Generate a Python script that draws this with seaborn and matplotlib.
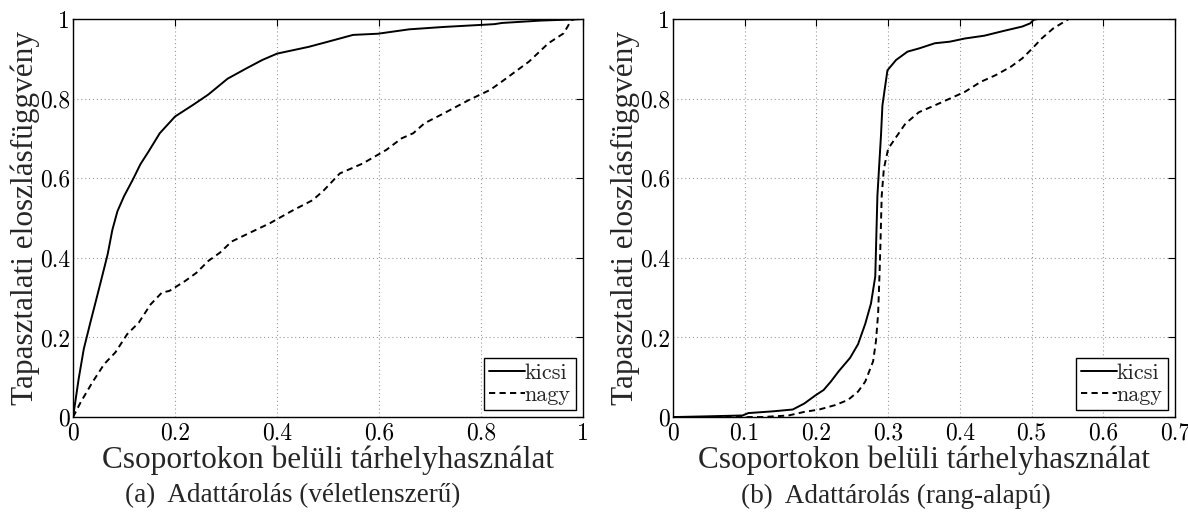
import matplotlib
matplotlib.use("Agg")
import matplotlib.pyplot as plt
import seaborn as sns
import pandas as pd

# Panel (a): random placement
a_kicsi_x = [0.0, 0.011, 0.021, 0.034, 0.049, 0.062, 0.068, 0.077, 0.087, 0.1, 0.117, 0.132, 0.148,
             0.17, 0.2, 0.235, 0.265, 0.303, 0.34, 0.371, 0.40, 0.462, 0.5, 0.549, 0.598, 0.659,
             0.727, 0.826, 0.841, 0.917, 0.985, 1.0]
a_kicsi_y = [0.0, 0.096, 0.171, 0.238, 0.313, 0.379, 0.41, 0.47, 0.517, 0.555, 0.596, 0.635, 0.667,
             0.713, 0.755, 0.784, 0.81, 0.85, 0.876, 0.897, 0.913, 0.93, 0.943, 0.96, 0.963, 0.974,
             0.98, 0.987, 0.99, 0.996, 0.999, 1.0]
a_nagy_x = [0.0, 0.015, 0.038, 0.061, 0.083, 0.106, 0.129, 0.152, 0.174, 0.189, 0.22, 0.242, 0.265,
            0.288, 0.311, 0.345, 0.386, 0.432, 0.47, 0.492, 0.523, 0.568, 0.614, 0.644, 0.667,
            0.689, 0.727, 0.777, 0.818, 0.841, 0.894, 0.932, 0.962, 0.977, 0.985]
a_nagy_y = [0.0, 0.0375, 0.0875, 0.133, 0.1625, 0.208, 0.2375, 0.283, 0.3125, 0.317, 0.342, 0.3625,
            0.392, 0.413, 0.441, 0.462, 0.487, 0.52, 0.545, 0.57, 0.612, 0.637, 0.671, 0.7, 0.713,
            0.738, 0.763, 0.797, 0.822, 0.843, 0.893, 0.939, 0.964, 0.997, 1.0]

# Panel (b): rank-based placement
b_kicsi_x = [0.0, 0.044, 0.097, 0.105, 0.14, 0.167, 0.183, 0.199, 0.21, 0.22, 0.231, 0.247, 0.258,
             0.268, 0.276, 0.282, 0.283, 0.285, 0.29, 0.292, 0.295, 0.299, 0.311, 0.327, 0.343,
             0.365, 0.386, 0.407, 0.434, 0.461, 0.487, 0.498, 0.503, 0.509, 0.7]
b_kicsi_y = [0.0, 0.0017, 0.004, 0.010, 0.0145, 0.019, 0.034, 0.055, 0.068, 0.089, 0.115, 0.149,
             0.183, 0.234, 0.285, 0.353, 0.42, 0.556, 0.708, 0.783, 0.821, 0.871, 0.897, 0.918,
             0.926, 0.939, 0.943, 0.951, 0.958, 0.97, 0.981, 0.989, 0.998, 1.0, 1.0]
b_nagy_x = [0.0, 0.124, 0.161, 0.183, 0.204, 0.226, 0.244, 0.258, 0.268, 0.279, 0.283, 0.286, 0.288,
            0.289, 0.291, 0.294, 0.3, 0.311, 0.324, 0.343, 0.365, 0.386, 0.407, 0.429, 0.45, 0.471,
            0.487, 0.501, 0.514, 0.53, 0.549, 0.552, 0.7]
b_nagy_y = [0.0, 0.0, 0.004, 0.013, 0.019, 0.03, 0.043, 0.064, 0.089, 0.14, 0.191, 0.26, 0.362,
            0.42, 0.556, 0.624, 0.674, 0.703, 0.737, 0.766, 0.783, 0.8, 0.817, 0.842, 0.859, 0.88,
            0.901, 0.926, 0.951, 0.976, 0.997, 1.0, 1.0]

series_names = ["kicsi", "nagy"]
x_label = "Csoportokon belüli tárhelyhasználat"
y_label = "Tapasztalati eloszlásfüggvény"
captions = ["(a)  Adattárolás (véletlenszerű)", "(b)  Adattárolás (rang-alapú)"]
a_xticks = [0, 0.2, 0.4, 0.6, 0.8, 1]
b_xticks = [0, 0.1, 0.2, 0.3, 0.4, 0.5, 0.6, 0.7]
yticks = [0, 0.2, 0.4, 0.6, 0.8, 1]

sns.set_theme(style="white")
plt.rcParams["font.family"] = ["cmr10", "DejaVu Serif"]
plt.rcParams["axes.formatter.use_mathtext"] = True
plt.rcParams["mathtext.fontset"] = "cm"

# accented Hungarian labels need a serif face with full Latin coverage
LABEL_FONT = ["Liberation Serif", "DejaVu Serif"]


def tick_text(v):
    return "0" if v == 0 else ("1" if v == 1 else f"{v:g}")


def draw_panel(ax, kx, ky, nx, ny, xmax, xticks):
    df = pd.concat([
        pd.DataFrame({"x": kx, "y": ky, "s": series_names[0]}),
        pd.DataFrame({"x": nx, "y": ny, "s": series_names[1]}),
    ])
    sns.lineplot(data=df, x="x", y="y", style="s", color="black", linewidth=1.4,
                 sort=False, estimator=None, dashes={"kicsi": "", "nagy": (3.2, 2.2)},
                 ax=ax, legend=True)
    ax.set_xlim(0, xmax)
    ax.set_ylim(0, 1)
    ax.set_xticks(xticks)
    ax.set_xticklabels([tick_text(v) for v in xticks])
    ax.set_yticks(yticks)
    ax.set_yticklabels([tick_text(v) for v in yticks])
    ax.grid(True, color="#9a9a9a", linestyle=(0, (1, 2.5)), linewidth=0.8)
    ax.tick_params(direction="in", length=5, width=0.8, top=True, right=True,
                   labelsize=17, pad=2, colors="black")
    ax.tick_params(axis="x", pad=4)
    for sp in ax.spines.values():
        sp.set_color("black")
        sp.set_linewidth(1.0)
    ax.set_xlabel(x_label, fontsize=22.5, family=LABEL_FONT, labelpad=0.5)
    ax.set_ylabel(y_label, fontsize=22.5, family=LABEL_FONT, labelpad=0)
    leg = ax.legend(loc="lower right", fontsize=16, handlelength=1.6, handletextpad=0.0,
                    borderpad=0.25, labelspacing=0.1, borderaxespad=0.3,
                    fancybox=False, framealpha=1, edgecolor="black")
    leg.get_frame().set_linewidth(1.0)


fig = plt.figure(figsize=(11.88, 5.13), dpi=100)
ax1 = fig.add_axes([0.0615, 0.187, 0.4293, 0.776])
ax2 = fig.add_axes([0.5665, 0.187, 0.4226, 0.776])
draw_panel(ax1, a_kicsi_x, a_kicsi_y, a_nagy_x, a_nagy_y, 1.0, a_xticks)
draw_panel(ax2, b_kicsi_x, b_kicsi_y, b_nagy_x, b_nagy_y, 0.7, b_xticks)
fig.text(0.246, 0.033, captions[0], ha="center", va="center", fontsize=19.5, family=LABEL_FONT)
fig.text(0.754, 0.033, captions[1], ha="center", va="center", fontsize=19.5, family=LABEL_FONT)
fig.savefig("out.png", dpi=100, facecolor="white")
